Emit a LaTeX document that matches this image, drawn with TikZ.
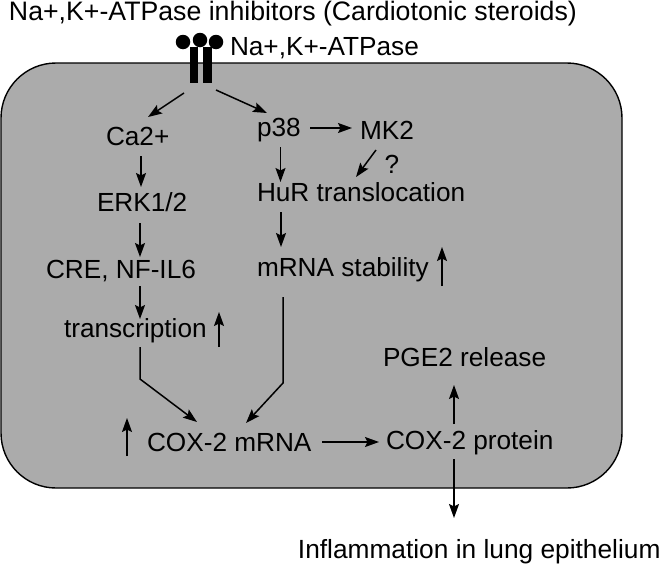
\documentclass[tikz,border=0pt]{standalone}
\usepackage{fontspec}
\setmainfont{Liberation Sans}
\usetikzlibrary{arrows.meta,calc}
\definecolor{cellgray}{HTML}{ABABAB}
\tikzset{
  lbl/.style={inner sep=0pt,outer sep=0pt,anchor=base west,font=\fontsize{26.2}{28}\selectfont,text=black},
  arr/.style={draw=black,line width=1.5pt,line join=miter,-{Stealth[length=14pt,width=10pt,inset=2.5pt]}},
  cell/.style={draw=black,line width=1.4pt,fill=cellgray,rounded corners=55pt},
  bead/.style={circle,fill=black,inner sep=0pt,minimum size=14.5pt},
  bar/.style={fill=black,inner sep=0pt,minimum width=8.5pt,minimum height=36pt},
}
\begin{document}
\begin{tikzpicture}[x=1pt,y=-1pt]
\useasboundingbox (0,0) rectangle (661,565);
\draw[cell] (1,63) rectangle (622,488);
\node[lbl,font=\fontsize{26.7}{28}\selectfont] (title) at (9,20) {Na+,K+-ATPase inhibitors (Cardiotonic steroids)};
\node[lbl] (atp) at (230,55) {Na+,K+-ATPase};
\node[bar] (b1) at (194,65) {};
\node[bar] (b2) at (207.5,65) {};
\node[bead] (c1) at (183,42) {};
\node[bead] (c2) at (200,40) {};
\node[bead] (c3) at (216,42) {};
\node[lbl] (ca) at (106,145) {Ca2+};
\node[lbl] (p38) at (257,136) {p38};
\node[lbl] (mk2) at (360,139) {MK2};
\node[lbl,anchor=base] (q) at (392,173) {?};
\node[lbl] (hur) at (257,201) {HuR translocation};
\node[lbl] (erk) at (97,211) {ERK1/2};
\node[lbl] (cre) at (46,278) {CRE, NF-IL6};
\node[lbl] (mrna) at (257,276) {mRNA stability};
\node[lbl] (tr) at (64,337) {transcription};
\node[lbl] (pge) at (383,366) {PGE2 release};
\node[lbl] (cox) at (147,451) {COX-2 mRNA};
\node[lbl] (prot) at (386,449) {COX-2 protein};
\node[lbl,anchor=base east,font=\fontsize{26.3}{28}\selectfont] (inf) at (660.5,558) {Inflammation in lung epithelium};
\coordinate (pump) at (200,83);
\coordinate (upa) at (442,286);
\coordinate (upb) at (442,247);
\coordinate (upc) at (219,347);
\coordinate (upd) at (219,312);
\coordinate (upe) at (127,456);
\coordinate (upf) at (127,418);
\draw[arr] ($(pump)+(-16,10)$) -- ($(ca.base west)+(42,-28)$);
\draw[arr] ($(pump)+(16,7)$) -- ($(p38.base west)+(10,-23)$);
\draw[arr] ($(p38.base west)+(53,-8)$) -- ($(mk2.base west)+(-8,-11)$);
\draw[arr] ($(mk2.base west)+(16,11)$) -- ($(hur.base west)+(99,-24)$);
\draw[arr] ($(p38.base west)+(23.5,11)$) -- ($(hur.base west)+(23.5,-19)$);
\draw[arr] ($(hur.base west)+(24,11)$) -- ($(mrna.base west)+(24,-29)$);
\draw[arr] ($(ca.base west)+(35,11)$) -- ($(erk.base west)+(44,-24)$);
\draw[arr] ($(erk.base west)+(43,12)$) -- ($(cre.base west)+(94,-21)$);
\draw[arr] ($(cre.base west)+(94,8)$) -- ($(tr.base west)+(76,-18)$);
\draw[arr] (upa) -- (upb);
\draw[arr] (upc) -- (upd);
\draw[arr] (upe) -- (upf);
\draw[arr] ($(tr.base west)+(76,10)$) -- ($(tr.base west)+(76,42)$) -- ($(cox.base west)+(50,-29)$);
\draw[arr] ($(mrna.base west)+(26,21)$) -- ($(mrna.base west)+(26,107)$) -- ($(cox.base west)+(99,-28)$);
\draw[arr] ($(cox.base west)+(175,-9)$) -- ($(prot.base west)+(-7,-7)$);
\draw[arr] ($(prot.base west)+(68,-25)$) -- ($(pge.base west)+(71,19)$);
\draw[arr] ($(prot.base west)+(68,10)$) -- ($(inf.base east)+(-206.5,-40)$);
\end{tikzpicture}
\end{document}
